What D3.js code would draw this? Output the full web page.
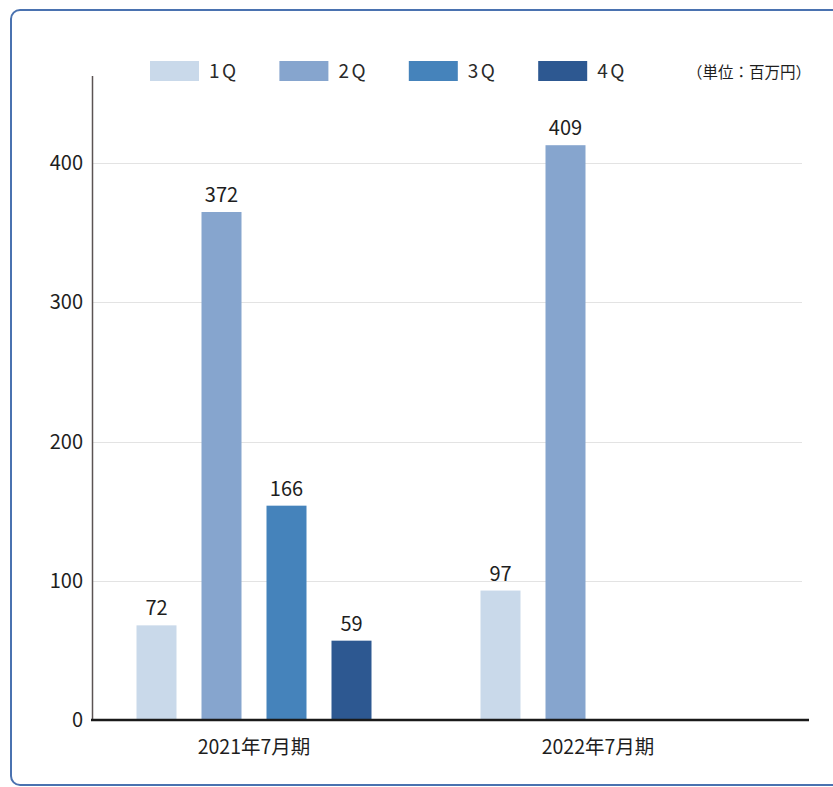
<!DOCTYPE html>
<html><head><meta charset="utf-8">
<script src="https://cdn.jsdelivr.net/npm/d3@7/dist/d3.min.js"></script>
<style>
html,body{margin:0;padding:0;background:#fff;}
svg{display:block;}
text{font-family:"Noto Sans CJK JP","Noto Sans",sans-serif;}
</style></head>
<body>
<svg id="chart" width="833" height="787"></svg>
<script>
// ---- data ----
const categories = ["2021年7月期", "2022年7月期"];
const series = ["1Q", "2Q", "3Q", "4Q"];
const seriesColors = ["#c9d9ea", "#86a5ce", "#4583bb", "#2d5891"];
// printed value labels
const labels2021 = [72, 372, 166, 59];
const labels2022 = [97, 409, null, null];
// bar heights as drawn in the picture
const bars2021 = [68, 365, 154, 57];
const bars2022 = [93, 413, null, null];
const yTicks = [0, 100, 200, 300, 400];
const unitLabel = "（単位：百万円）";

const svg = d3.select("#chart");

// frame
svg.append("rect").attr("x", 11).attr("y", 10).attr("width", 850).attr("height", 775)
  .attr("rx", 9).attr("fill", "none").attr("stroke", "#4a72b0").attr("stroke-width", 2);

const y = d3.scaleLinear().domain([0, 400]).range([720, 163.3]);
const x0 = d3.scaleBand().domain(categories).range([82, 770]);
const x1 = d3.scaleBand().domain(series).range([-130, 130])
  .paddingInner(25 / 65).paddingOuter(12.5 / 65);

// gridlines
svg.append("g").selectAll("line").data(yTicks.filter(d => d > 0)).join("line")
  .attr("x1", 93).attr("x2", 802)
  .attr("y1", d => Math.round(y(d)) + 0.5).attr("y2", d => Math.round(y(d)) + 0.5)
  .attr("stroke", "#e3e3e3").attr("stroke-width", 1);

// y axis
const yAxis = svg.append("g").attr("transform", "translate(83,0)")
  .call(d3.axisLeft(y).tickValues(yTicks).tickSize(0).tickPadding(0));
yAxis.select(".domain").remove();
yAxis.selectAll("text").attr("font-size", 20).attr("fill", "#1e1e1e")
  .style("font-family", '"Noto Sans CJK JP","Noto Sans",sans-serif');

svg.append("line").attr("x1", 92.5).attr("x2", 92.5).attr("y1", 76).attr("y2", 720)
  .attr("stroke", "#5b5353").attr("stroke-width", 1.5);

// bars
const rows = [
  {cat: categories[0], bars: bars2021, labels: labels2021},
  {cat: categories[1], bars: bars2022, labels: labels2022}
];
const flat = [];
rows.forEach(r => series.forEach((s, i) => {
  if (r.bars[i] != null) flat.push({cat: r.cat, s, i, v: r.bars[i], lab: r.labels[i]});
}));
const cx = d => x0(d.cat) + x0.bandwidth() / 2 + x1(d.s);
svg.append("g").selectAll("rect").data(flat).join("rect")
  .attr("x", d => cx(d)).attr("width", x1.bandwidth())
  .attr("y", d => y(d.v)).attr("height", d => y(0) - y(d.v))
  .attr("fill", d => seriesColors[d.i]);

svg.append("g").selectAll("text").data(flat).join("text")
  .attr("x", d => cx(d) + x1.bandwidth() / 2)
  .attr("y", d => y(d.v) - 10)
  .attr("text-anchor", "middle").attr("font-size", 20).attr("fill", "#1e1e1e")
  .text(d => d.lab);

// baseline
svg.append("line").attr("x1", 91).attr("x2", 809).attr("y1", 720).attr("y2", 720)
  .attr("stroke", "#1a1a1a").attr("stroke-width", 2.5);

// category labels
svg.append("g").selectAll("text").data(categories).join("text")
  .attr("x", d => x0(d) + x0.bandwidth() / 2).attr("y", 754)
  .attr("text-anchor", "middle").attr("font-size", 19.5).attr("fill", "#1e1e1e")
  .text(d => d);

// legend
const lx = d3.scalePoint().domain(series).range([150, 538.2]);
const lg = svg.append("g").selectAll("g").data(series).join("g")
  .attr("transform", d => `translate(${lx(d)},61)`);
lg.append("rect").attr("width", 49).attr("height", 20)
  .attr("fill", (d, i) => seriesColors[i]);
lg.append("text").attr("x", 59).attr("y", 17).attr("font-size", 19)
  .attr("letter-spacing", 2.5).attr("fill", "#2a2a2a").text(d => d);

svg.append("text").attr("x", 811).attr("y", 78).attr("text-anchor", "end")
  .attr("font-size", 15.5).attr("fill", "#1e1e1e").text(unitLabel);
</script>
</body></html>
